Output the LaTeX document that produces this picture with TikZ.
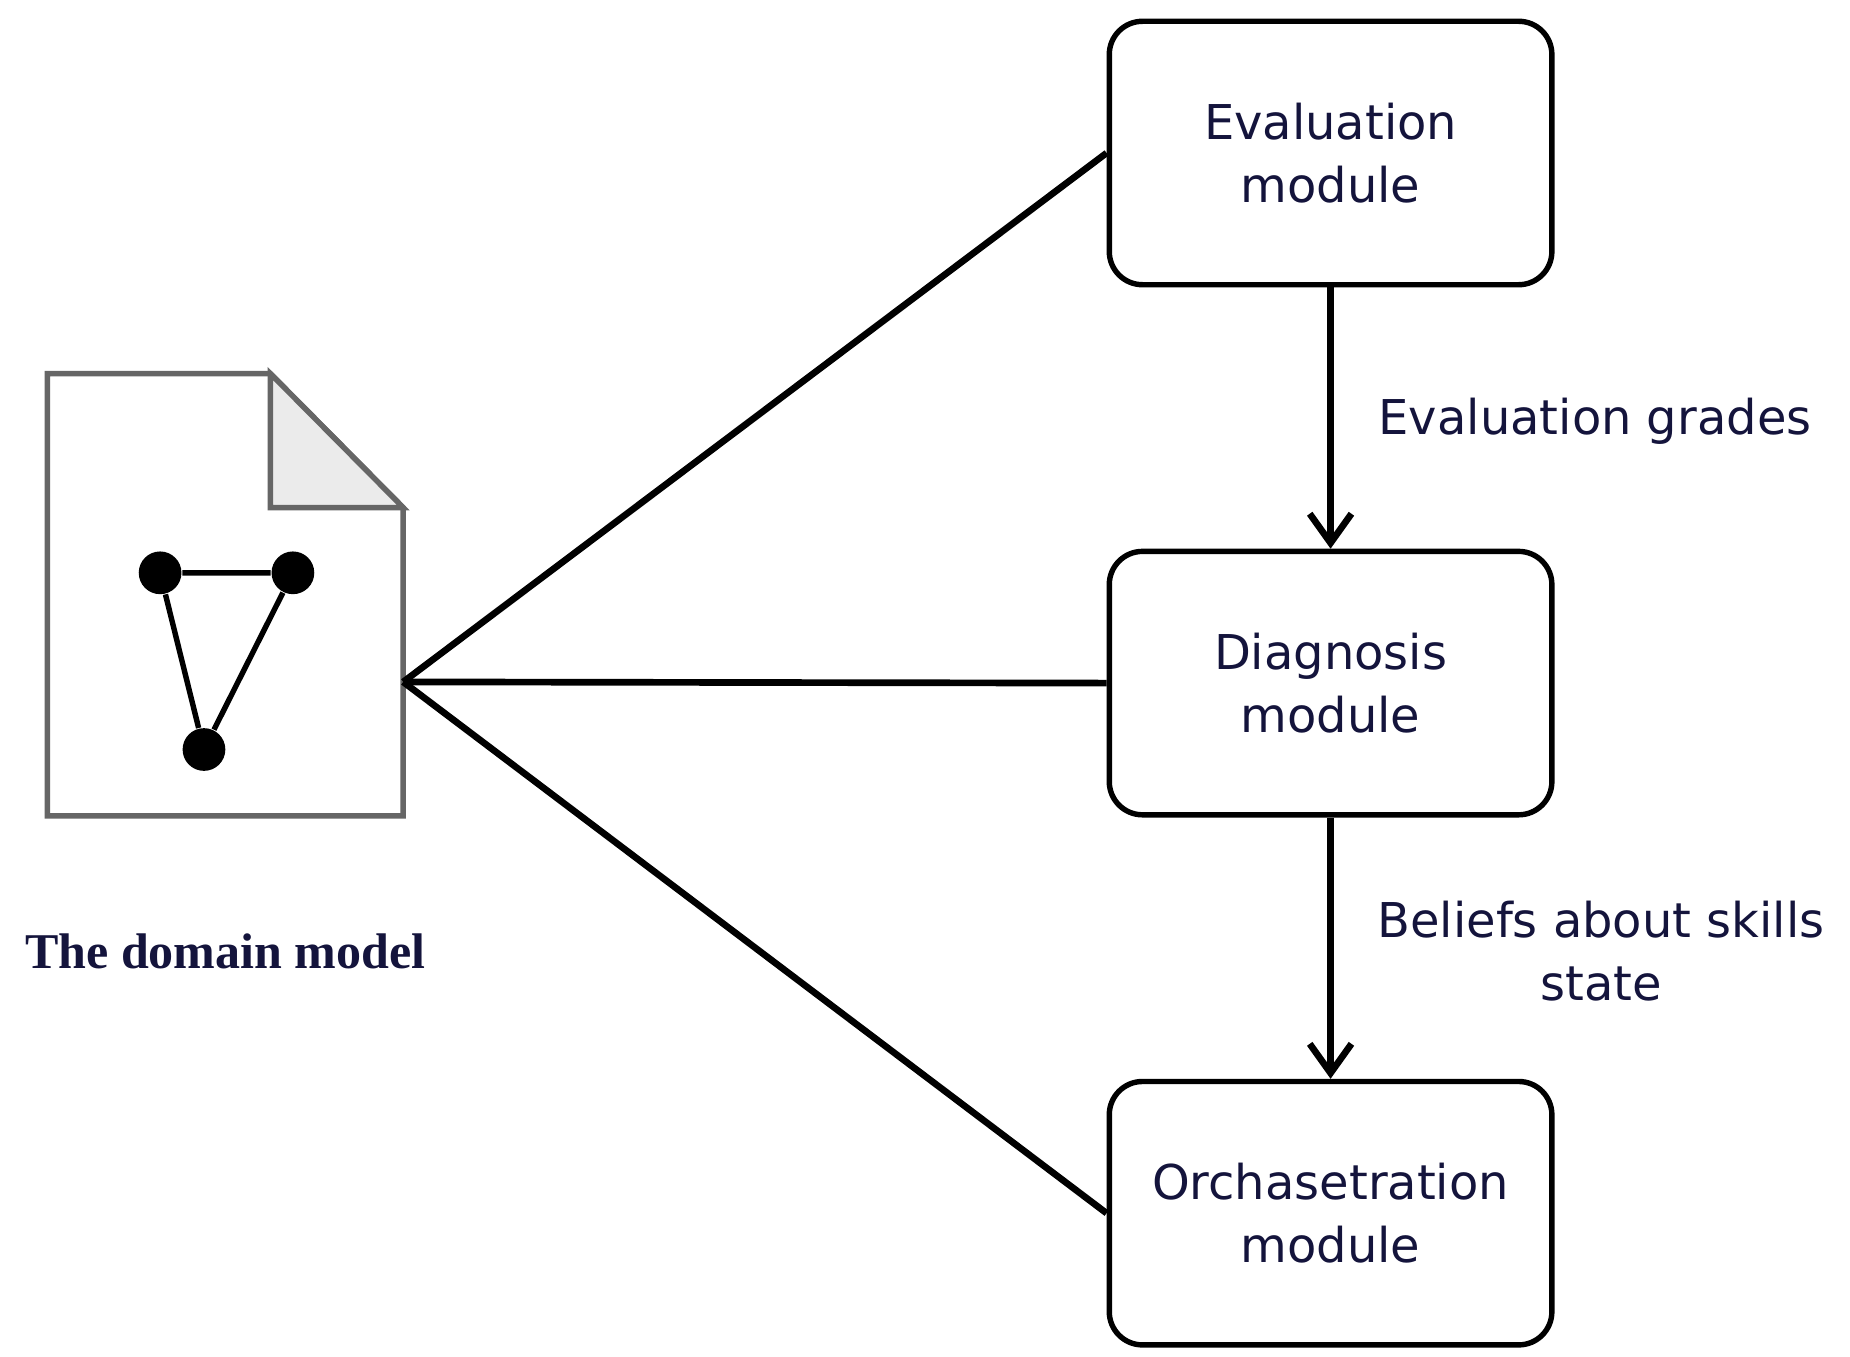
\documentclass[tikz,border=0pt]{standalone}
\usepackage{fontspec}
\setmainfont{DejaVu Sans}
\newfontfamily\serifb{Liberation Serif}
\usetikzlibrary{arrows.meta}
\definecolor{txt}{RGB}{20,20,60}
\begin{document}
\begin{tikzpicture}[x=0.01cm,y=-0.01cm,
  box/.style={draw,line width=1.3pt,rounded corners=0.28cm,minimum width=3.73cm,minimum height=2.22cm,align=center,text=txt,font=\fontsize{11.5}{15}\selectfont},
  conn/.style={line width=1.6pt},
  arr/.style={conn,-{Straight Barb[length=7pt,width=10pt,line width=1.6pt]}},
  dot/.style={circle,fill=black,inner sep=0pt,minimum size=0.36cm},
  lbl/.style={align=center,text=txt,font=\fontsize{11.5}{15}\selectfont}]
\useasboundingbox (0,0) rectangle (1560,1144);
\node[box] (ev) at (1122,129) {Evaluation\\module};
\node[box] (dg) at (1122,576) {Diagnosis\\module};
\node[box] (or) at (1122,1023) {Orchasetration\\module};
% document
\draw[line width=1.3pt,draw=black!60,fill=white] (40,315) -- (228,315) -- (340,428) -- (340,688) -- (40,688) -- cycle;
\draw[line width=1.3pt,draw=black!60,fill=black!8] (228,315) -- (228,428) -- (340,428) -- cycle;
\coordinate (doc) at (340,575);
\node[dot] (n1) at (135,483) {};
\node[dot] (n2) at (247,483) {};
\node[dot] (n3) at (172,632) {};
\draw[line width=1.3pt] (n1) -- (n2) -- (n3) -- (n1);
\draw[conn] (doc) -- (ev.west);
\draw[conn] (doc) -- (dg.west);
\draw[conn] (doc) -- (or.west);
\draw[arr] (ev.south) -- (dg.north);
\draw[arr] (dg.south) -- (or.north);
\node[lbl] (l1) at (1345,355) {Evaluation grades};
\node[lbl] (l2) at (1350,802) {Beliefs about skills\\state};
\node[text=txt,font=\serifb\bfseries\fontsize{12}{15}\selectfont] (dm) at (190,802) {The domain model};
\end{tikzpicture}
\end{document}
